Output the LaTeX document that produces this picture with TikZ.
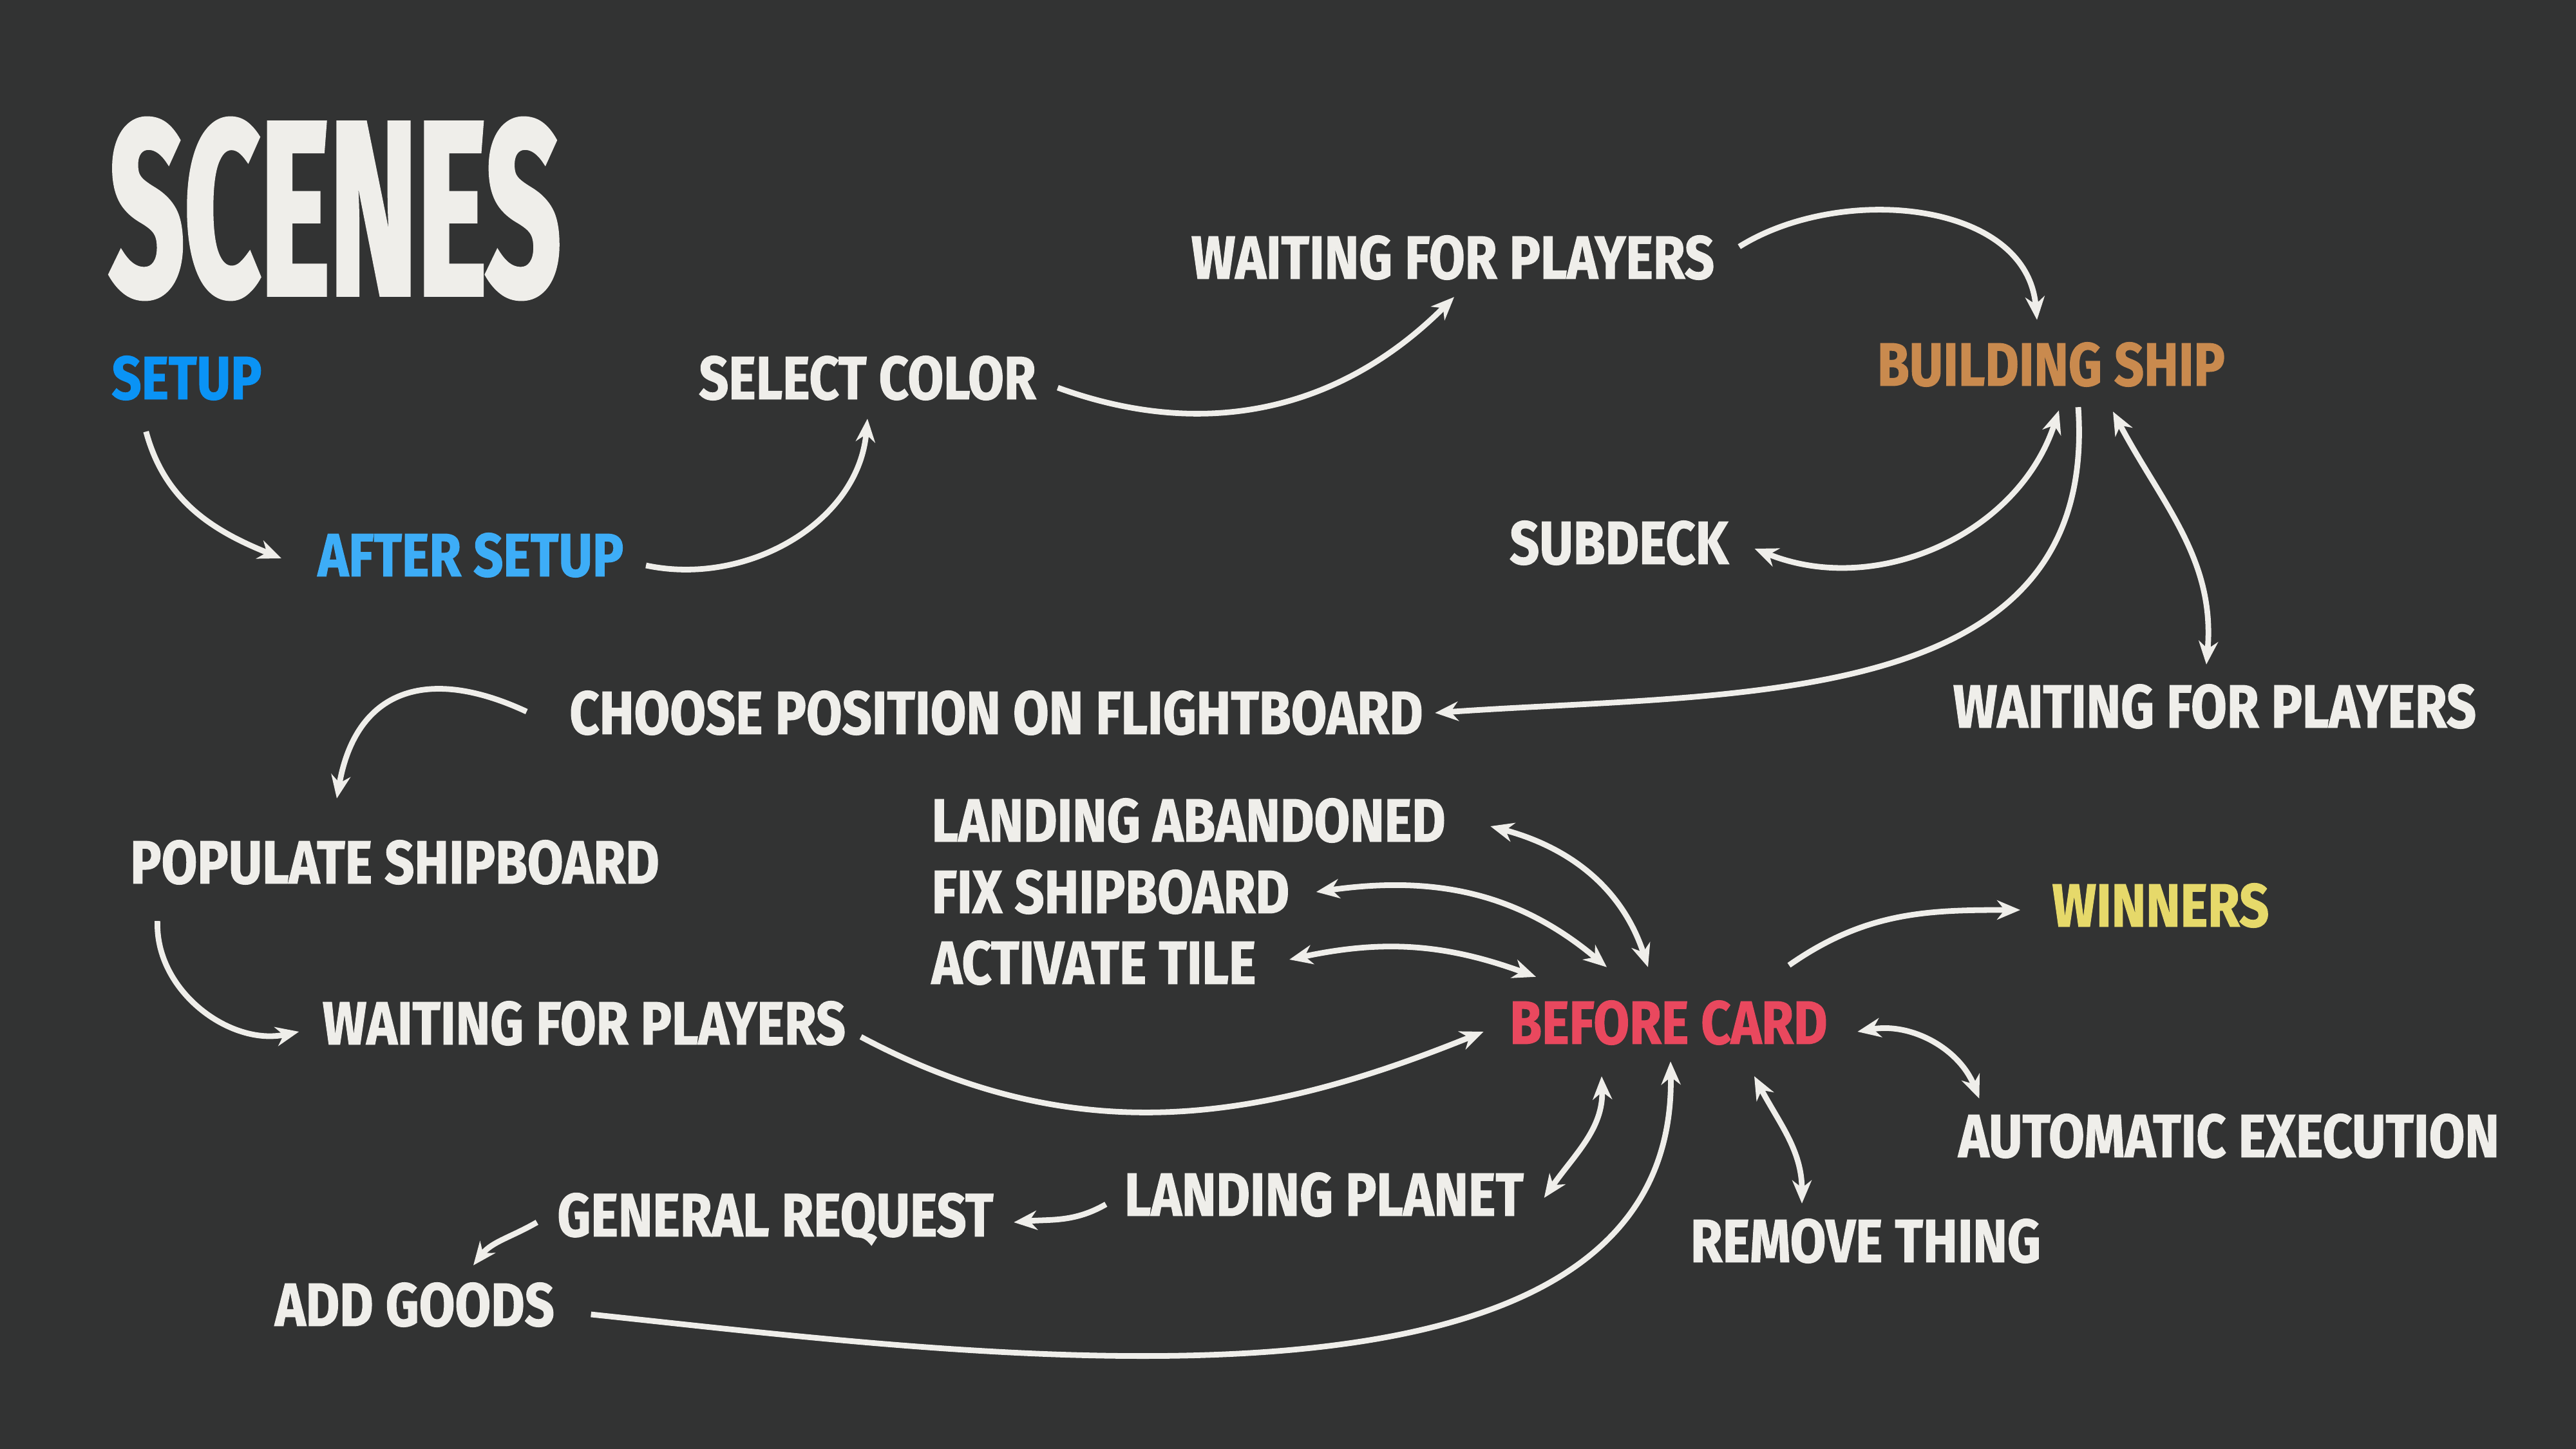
\documentclass[tikz,border=0pt]{standalone}
\usepackage{fontspec}
\setmainfont{Fira Sans}[FakeStretch=0.85, BoldFeatures={FakeBold=1.2}]
\newfontfamily\titlefont{Fira Sans}[FakeStretch=0.53, BoldFeatures={FakeBold=1.5}]
\usetikzlibrary{arrows.meta}
\definecolor{bg}{HTML}{323333}
\definecolor{chalk}{HTML}{EFEEEA}
\definecolor{setupblue}{HTML}{0A93F5}
\definecolor{afterblue}{HTML}{3DADF7}
\definecolor{shiptan}{HTML}{C98A4E}
\definecolor{cardred}{HTML}{E9485E}
\definecolor{winyellow}{HTML}{E6D96A}
\tikzset{
  scene/.style={inner sep=0pt, text=chalk, font=\fontsize{27}{30}\selectfont\bfseries},
  flow/.style={draw=chalk, line width=2.5pt, -{Stealth[length=0.36cm,width=0.3cm]}},
  twoway/.style={flow, {Stealth[length=0.36cm,width=0.3cm]}-{Stealth[length=0.36cm,width=0.3cm]}}
}

\begin{document}
\begin{tikzpicture}
        \fill[bg] (0,0) rectangle (40,-22.5);
        \useasboundingbox (0,0) rectangle (40,-22.5);

        \node (title) [inner sep=0pt, text=chalk, font=\titlefont\fontsize{110}{114}\selectfont\bfseries] at (5.20,-3.24) {SCENES};

        % setup and ship building
        \node (setup) [scene, text=setupblue] at (2.90,-5.87) {SETUP};
        \node (aftersetup) [scene, text=afterblue] at (7.31,-8.62) {AFTER SETUP};
        \node (selcolor) [scene] at (13.47,-5.87) {SELECT COLOR};
        \node (wfptop) [scene] at (22.56,-4.00) {WAITING FOR PLAYERS};
        \node (building) [scene, text=shiptan] at (31.85,-5.66) {BUILDING SHIP};
        \node (subdeck) [scene] at (25.14,-8.43) {SUBDECK};
        \node (wfpright) [scene] at (34.39,-10.97) {WAITING FOR PLAYERS};
        \node (choose) [scene] at (15.47,-11.07) {CHOOSE POSITION ON FLIGHTBOARD};
        \node (populate) [scene] at (6.13,-13.39) {POPULATE SHIPBOARD};
        \node (wfpleft) [scene] at (9.07,-15.89) {WAITING FOR PLAYERS};

        % card phase
        \node (abandoned) [scene, anchor=west] at (14.46,-12.74) {LANDING ABANDONED};
        \node (fixship) [scene, anchor=west] at (14.46,-13.85) {FIX SHIPBOARD};
        \node (activate) [scene, anchor=west] at (14.46,-14.95) {ACTIVATE TILE};
        \node (beforecard) [scene, text=cardred] at (25.91,-15.88) {BEFORE CARD};
        \node (winners) [scene, text=winyellow] at (33.55,-14.06) {WINNERS};
        \node (automatic) [scene] at (34.61,-17.64) {AUTOMATIC EXECUTION};
        \node (remove) [scene] at (28.97,-19.27) {REMOVE THING};
        \node (landplanet) [scene] at (20.56,-18.55) {LANDING PLANET};
        \node (genreq) [scene] at (12.04,-18.93) {GENERAL REQUEST};
        \node (addgoods) [scene] at (6.44,-20.26) {ADD GOODS};

        \draw [flow] ([shift={(0.54,-0.48)}]setup.south west) to[out=-75, in=158] ([shift={(-0.56,-0.05)}]aftersetup.west);
        \draw [flow] ([shift={(0.34,-0.16)}]aftersetup.east) to[out=-12, in=-95] ([shift={(0,-0.28)}]selcolor.south);
        \draw [flow] ([shift={(0.33,-0.15)}]selcolor.east) to[out=-20, in=-135] ([shift={(0.02,-0.26)}]wfptop.south);
        \draw [flow] ([shift={(0.38,0.17)}]wfptop.east) to[out=32, in=95] ([shift={(-0.22,0.34)}]building.north);
        \draw [twoway] ([shift={(0.40,-0.09)}]subdeck.east) to[out=-22, in=-108] ([shift={(0.12,-0.36)}]building.south);
        \draw [flow] ([shift={(0.42,-0.31)}]building.south) to[out=-86, in=4, looseness=1.1] ([shift={(0.18,0)}]choose.east);
        \draw [twoway] ([shift={(0.96,-0.38)}]building.south) to[out=-62, in=85] ([shift={(-0.13,0.30)}]wfpright.north);
        \draw [flow] ([shift={(-0.66,0.02)}]choose.west) to[out=155, in=80, looseness=1.35] ([shift={(-0.90,0.64)}]populate.north);
        \draw [flow] ([shift={(0.43,-0.56)}]populate.south west) to[out=-92, in=192] ([shift={(-0.36,-0.13)}]wfpleft.west);
        \draw [flow] ([shift={(0.23,-0.21)}]wfpleft.east) to[out=-28, in=-158] ([shift={(-0.40,-0.14)}]beforecard.west);

        % links around before card
        \draw [twoway] ([shift={(0.69,-0.09)}]abandoned.east) to[out=-15, in=108] ([shift={(-0.32,0.51)}]beforecard.north);
        \draw [twoway] ([shift={(0.41,0)}]fixship.east) to[out=8, in=140] ([shift={(-0.96,0.51)}]beforecard.north);
        \draw [twoway] ([shift={(0.51,0.05)}]activate.east) to[out=12, in=160] ([shift={(-2.06,0.36)}]beforecard.north);
        \draw [flow] ([shift={(1.87,0.54)}]beforecard.north) to[out=35, in=180] ([shift={(-0.49,-0.07)}]winners.west);
        \draw [twoway] ([shift={(0.46,-0.14)}]beforecard.east) to[out=10, in=112] ([shift={(0.33,0.23)}]automatic.north west);
        \draw [twoway] ([shift={(1.33,-0.48)}]beforecard.south) to[out=-62, in=90] ([shift={(-0.99,0.23)}]remove.north);
        \draw [twoway] ([shift={(-1.04,-0.48)}]beforecard.south) to[out=-88, in=55] ([shift={(0.31,-0.05)}]landplanet.east);
        \draw [flow] ([shift={(0.56,-0.15)}]addgoods.east) to[out=-6, in=-89, looseness=0.9] ([shift={(0.03,-0.25)}]beforecard.south);
        \draw [flow] ([shift={(-0.28,-0.15)}]landplanet.west) to[out=-150, in=5] ([shift={(0.31,-0.05)}]genreq.east);
        \draw [flow] ([shift={(-0.31,-0.05)}]genreq.west) to[out=-150, in=52] ([shift={(0.91,0.26)}]addgoods.north);

    \end{tikzpicture}
\end{document}
